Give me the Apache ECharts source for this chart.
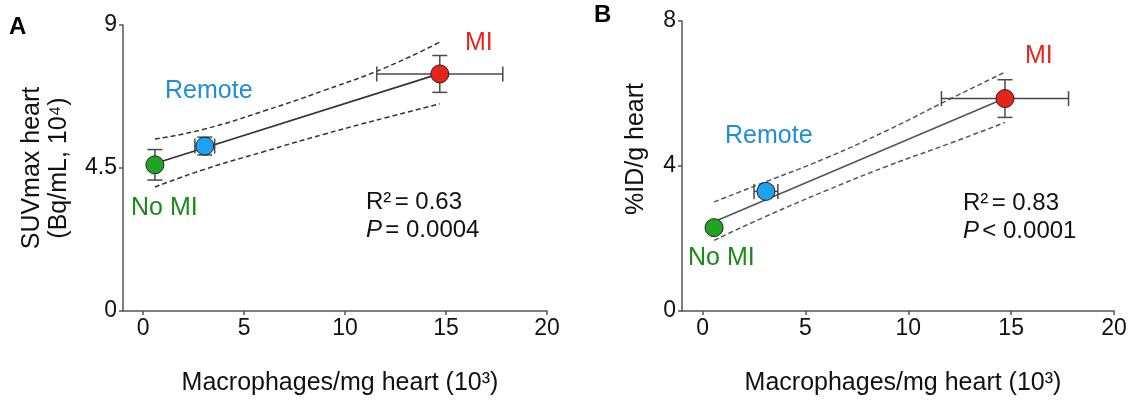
<!DOCTYPE html>
<html>
<head>
<meta charset="utf-8">
<script src="https://cdn.jsdelivr.net/npm/echarts@6/dist/echarts.min.js"></script>
<style>
html,body{margin:0;padding:0;background:#fff;}
#c{width:1130px;height:402px;}
</style>
</head>
<body>
<div id="c"></div>
<script>
// ---- data ----
const groups = ['No MI', 'Remote', 'MI'];
const xTicks = [0, 5, 10, 15, 20];
// Panel A
const macroA = [0.58, 3.05, 14.69];
const macroErrA = [0.15, 0.49, 3.12];
const suvA = [4.60, 5.19, 7.46];
const suvErrA = [0.48, 0.28, 0.58];
const fitAx = [0.58, 14.69];
const fitAy = [4.64, 7.47];
const ciAx = [0.58, 3, 6, 9, 12, 14.69];
const ciAupper = [5.41, 5.72, 6.30, 6.95, 7.66, 8.46];
const ciAlower = [3.90, 4.45, 5.02, 5.57, 6.08, 6.52];
// Panel B
const macroB = [0.56, 3.08, 14.70];
const macroErrB = [0.15, 0.58, 3.09];
const idB = [2.30, 3.30, 5.86];
const idErrB = [0.10, 0.15, 0.52];
const fitBx = [0.56, 14.70];
const fitBy = [2.46, 5.87];
const ciBx = [0.56, 3, 6, 9, 12, 14.70];
const ciBupper = [3.01, 3.55, 4.22, 4.99, 5.84, 6.59];
const ciBlower = [1.95, 2.59, 3.32, 4.00, 4.62, 5.20];

const markerColors = ['#22a322', '#1ea2f2', '#e8231b'];
const textColors = ['#1b8a1b', '#1f8fd6', '#e8251d'];
const FONT = "'Liberation Sans', Arial, Helvetica, sans-serif";
const AXC = '#555';

function zip(xs, ys) { return xs.map((x, i) => [x, ys[i]]); }

function errRender(params, api) {
  const x = api.value(0), y = api.value(1), ex = api.value(2), ey = api.value(3);
  const l = api.coord([x - ex, y]), r = api.coord([x + ex, y]);
  const t = api.coord([x, y + ey]), b = api.coord([x, y - ey]);
  const cap = 7.5;
  const st = { stroke: '#4a4a4a', lineWidth: 1.5 };
  return {
    type: 'group',
    children: [
      { type: 'line', shape: { x1: l[0], y1: l[1], x2: r[0], y2: r[1] }, style: st },
      { type: 'line', shape: { x1: l[0], y1: l[1] - cap, x2: l[0], y2: l[1] + cap }, style: st },
      { type: 'line', shape: { x1: r[0], y1: r[1] - cap, x2: r[0], y2: r[1] + cap }, style: st },
      { type: 'line', shape: { x1: t[0], y1: t[1], x2: b[0], y2: b[1] }, style: st },
      { type: 'line', shape: { x1: t[0] - cap, y1: t[1], x2: t[0] + cap, y2: t[1] }, style: st },
      { type: 'line', shape: { x1: b[0] - cap, y1: b[1], x2: b[0] + cap, y2: b[1] }, style: st }
    ]
  };
}

function xAxisDef(gridIndex) {
  return {
    type: 'value', gridIndex, min: -1, max: 20,
    name: 'Macrophages/mg heart (10³)', nameLocation: 'middle', nameGap: 60,
    nameTextStyle: { fontSize: 25, color: '#111', fontFamily: FONT, padding: [0, 0, 0, 10] },
    axisLine: { show: true, onZero: false, lineStyle: { color: AXC, width: 1.5 } },
    axisTick: { show: true, length: 4, customValues: xTicks, lineStyle: { color: AXC, width: 1.5 } },
    axisLabel: { customValues: xTicks, fontSize: 23, color: '#111', fontFamily: FONT, margin: 6 },
    splitLine: { show: false }
  };
}
function yAxisDef(gridIndex, max, interval, name, gap, pad) {
  return {
    type: 'value', gridIndex, min: 0, max, interval,
    name, nameLocation: 'middle', nameGap: gap, nameRotate: 90,
    nameTextStyle: { fontSize: 25, color: '#111', fontFamily: FONT, lineHeight: 27, padding: pad },
    axisLine: { show: true, onZero: false, lineStyle: { color: AXC, width: 1.5 } },
    axisTick: { show: true, length: 4, lineStyle: { color: AXC, width: 1.5 } },
    axisLabel: { fontSize: 23, color: '#111', fontFamily: FONT, margin: 6 },
    splitLine: { show: false }
  };
}

function panelSeries(idx, mx, mxe, vy, vye, fx, fy, cx, cu, cl, lineColor) {
  const dash = { color: lineColor, width: 1.5, type: [5, 3] };
  return [
    { type: 'line', xAxisIndex: idx, yAxisIndex: idx, data: zip(cx, cu), smooth: true, showSymbol: false, lineStyle: dash, z: 1, silent: true },
    { type: 'line', xAxisIndex: idx, yAxisIndex: idx, data: zip(cx, cl), smooth: true, showSymbol: false, lineStyle: dash, z: 1, silent: true },
    { type: 'line', xAxisIndex: idx, yAxisIndex: idx, data: zip(fx, fy), showSymbol: false, lineStyle: { color: lineColor, width: 1.6 }, z: 2, silent: true },
    { type: 'custom', xAxisIndex: idx, yAxisIndex: idx, renderItem: errRender, z: 3, silent: true,
      data: mx.map((x, i) => [x, vy[i], mxe[i], vye[i]]) },
    { type: 'scatter', xAxisIndex: idx, yAxisIndex: idx, symbolSize: 18, z: 4,
      data: mx.map((x, i) => ({ value: [x, vy[i]], name: groups[i],
        itemStyle: { color: markerColors[i], borderColor: '#222', borderWidth: 1, opacity: 1 } })) }
  ];
}

function txt(left, cy, text, color, size) {
  return { type: 'text', left, top: cy - size * 0.5 + 1,
    style: { text, fill: color, font: `${size}px ${FONT}` } };
}
function stat(left, top, r2, op, p) {
  return {
    type: 'text', left, top,
    style: {
      text: `{n|R²} {n|= ${r2}}\n{i|P} {n|${op} ${p}}`,
      rich: {
        n: { fontSize: 24, fontFamily: FONT, fill: '#111', lineHeight: 28 },
        i: { fontSize: 24, fontFamily: FONT, fill: '#111', fontStyle: 'italic', lineHeight: 28 }
      }
    }
  };
}

const chart = echarts.init(document.getElementById('c'), null, { renderer: 'canvas' });
chart.setOption({
  animation: false,
  backgroundColor: '#fff',
  grid: [
    { left: 123, top: 25, width: 424, height: 286 },
    { left: 682, top: 21, width: 432, height: 290 }
  ],
  xAxis: [xAxisDef(0), xAxisDef(1)],
  yAxis: [
    yAxisDef(0, 9, 4.5, 'SUVmax heart\n(Bq/mL, 10⁴)', 50, [0, 0, 0, 0]),
    yAxisDef(1, 8, 4, '%ID/g heart', 32, [0, 0, 0, 34])
  ],
  series: [
    ...panelSeries(0, macroA, macroErrA, suvA, suvErrA, fitAx, fitAy, ciAx, ciAupper, ciAlower, '#333'),
    ...panelSeries(1, macroB, macroErrB, idB, idErrB, fitBx, fitBy, ciBx, ciBupper, ciBlower, '#555')
  ],
  graphic: [
    { type: 'text', left: 9, top: 15, style: { text: 'A', font: `bold 24px ${FONT}`, fill: '#000' } },
    { type: 'text', left: 594, top: 3, style: { text: 'B', font: `bold 24px ${FONT}`, fill: '#000' } },
    txt(465, 42, groups[2], textColors[2], 25),
    txt(165, 90, groups[1], textColors[1], 25),
    txt(131, 207, groups[0], textColors[0], 25),
    stat(366, 190, '0.63', '=', '0.0004'),
    txt(1025, 55, groups[2], textColors[2], 25),
    txt(725, 135, groups[1], textColors[1], 25),
    txt(688, 257, groups[0], textColors[0], 25),
    stat(963, 191, '0.83', '<', '0.0001')
  ]
});
</script>
</body>
</html>
